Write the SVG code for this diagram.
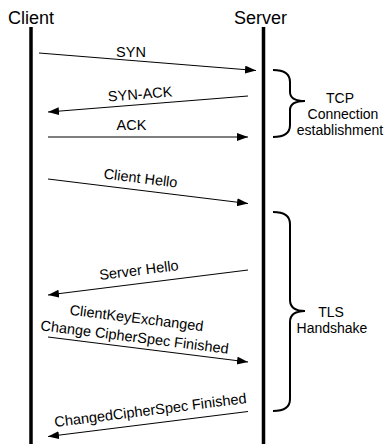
<svg xmlns="http://www.w3.org/2000/svg" width="386" height="444" viewBox="0 0 386 444">
<style>
text{font-family:"Liberation Sans",Arial,sans-serif;fill:#000}
.title{font-size:18px}
.lbl{font-size:14.5px;text-anchor:middle}
.side{font-size:14px;text-anchor:middle}
.life{stroke:#000;stroke-width:3.5;fill:none}
.msg{stroke:#000;stroke-width:1;fill:none;marker-end:url(#ah)}
.brace{stroke:#000;stroke-width:2;fill:none}
</style>
<defs>
<marker id="ah" markerUnits="userSpaceOnUse" markerWidth="12" markerHeight="10" refX="11" refY="4" orient="auto">
<path d="M0,0 L11,4 L0,8 Z" fill="#000"/>
</marker>
</defs>
<g id="client">
<text class="title" x="8" y="24">Client</text>
<line class="life" x1="31" y1="27" x2="31" y2="444"/>
</g>
<g id="server">
<text class="title" x="234" y="24">Server</text>
<line class="life" x1="263.5" y1="27" x2="263.5" y2="444"/>
</g>
<g id="connectors">
<line class="msg" x1="39" y1="53" x2="256" y2="70.5"/>
<line class="msg" x1="248" y1="96" x2="48" y2="112"/>
<line class="msg" x1="48" y1="137" x2="248" y2="137"/>
<line class="msg" x1="48" y1="179" x2="248" y2="203.5"/>
<line class="msg" x1="248" y1="270" x2="48" y2="295"/>
<line class="msg" x1="48" y1="337" x2="248" y2="362"/>
<line class="msg" x1="248" y1="411.5" x2="48" y2="436.5"/>
</g>
<g id="labels">
<text class="lbl" x="131" y="57">SYN</text>
<text class="lbl" transform="translate(140.5,99) rotate(-4.6)">SYN-ACK</text>
<text class="lbl" x="131.5" y="130">ACK</text>
<text class="lbl" transform="translate(140,183) rotate(7)">Client Hello</text>
<text class="lbl" transform="translate(139.5,275) rotate(-7.2)">Server Hello</text>
<text class="lbl" transform="translate(136,323) rotate(7.1)">ClientKeyExchanged</text>
<text class="lbl" transform="translate(134,342) rotate(7.1)">Change CipherSpec Finished</text>
<text class="lbl" transform="translate(151,415) rotate(-7.2)">ChangedCipherSpec Finished</text>
</g>
<g id="tcp-brace">
<path class="brace" d="M273,70 Q290,70 290,82 L290,92 Q290,101 305,101 Q290,101 290,110 L290,125 Q290,137 273,137"/>
<text class="side" x="340" y="103">TCP</text>
<text class="side" x="343" y="119">Connection</text>
<text class="side" x="340" y="135">establishment</text>
</g>
<g id="tls-brace">
<path class="brace" d="M273,212 Q290,212 290,224 L290,300 Q290,311 305,311 Q290,311 290,322 L290,399 Q290,411 273,411"/>
<text class="side" x="331" y="317">TLS</text>
<text class="side" x="332" y="333">Handshake</text>
</g>
</svg>
